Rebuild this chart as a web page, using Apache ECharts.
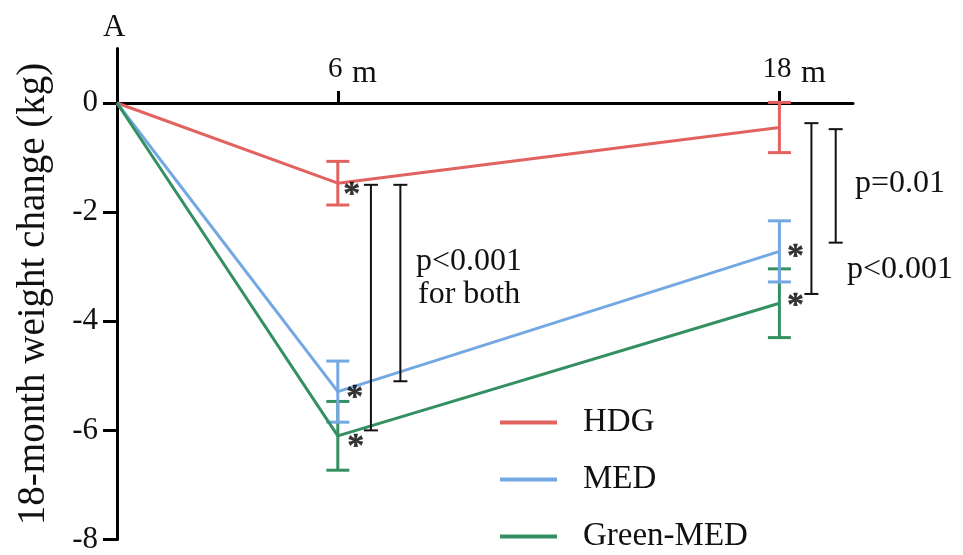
<!DOCTYPE html>
<html>
<head>
<meta charset="utf-8">
<script src="https://cdn.jsdelivr.net/npm/echarts@6/dist/echarts.min.js"></script>
<style>html,body{margin:0;padding:0;background:#fff}#c{width:963px;height:555px}</style>
</head>
<body>
<div id="c"></div>
<script>
// ---- data ----
const months = [0, 6, 18];
const groups = ['HDG', 'MED', 'Green-MED'];
const hdg = [0, -1.47, -0.45];
const hdgErr = [0, 0.40, 0.46];
const med = [0, -5.29, -2.72];
const medErr = [0, 0.56, 0.56];
const green = [0, -6.10, -3.67];
const greenErr = [0, 0.63, 0.63];
const xTicks = [6, 18];
const yTicks = [-8, -6, -4, -2, 0];
// significance brackets: [x (months), y top, y bottom]
const brackets = [[6.9, -1.5, -6.0], [7.7, -1.5, -5.1], [18.87, -0.37, -3.5], [19.53, -0.48, -2.56]];
const pTexts = ['p<0.001', 'for both', 'p=0.01', 'p<0.001'];

const colors = ['#e2625f', '#74a8e2', '#349063'];
const FONT = 'Liberation Serif';

function errSeries(name, vals, errs, color) {
  return {
    type: 'custom', name: name + ' err', z: 3,
    data: months.map((m, i) => [m, vals[i], errs[i]]),
    renderItem: function (params, api) {
      const x = api.value(0), y = api.value(1), e = api.value(2);
      if (!e) return null;
      const a = api.coord([x, y + e]), b = api.coord([x, y - e]);
      const hw = 11.5;
      const st = { stroke: color, lineWidth: 3 };
      return { type: 'group', children: [
        { type: 'line', shape: { x1: a[0], y1: a[1], x2: b[0], y2: b[1] }, style: st },
        { type: 'line', shape: { x1: a[0] - hw, y1: a[1], x2: a[0] + hw, y2: a[1] }, style: st },
        { type: 'line', shape: { x1: b[0] - hw, y1: b[1], x2: b[0] + hw, y2: b[1] }, style: st }
      ] };
    }
  };
}
function lineSeries(name, vals, color) {
  return {
    type: 'line', name: name, z: 4, symbol: 'none',
    data: months.map((m, i) => [m, vals[i]]),
    lineStyle: { color: color, width: 3 }, itemStyle: { color: color }
  };
}
const starOff = [[14, 12], [17, 7], [18, 11], [16, 6], [16, 3]];
const starData = [[6, hdg[1]], [6, med[1]], [6, green[1]], [18, med[2]], [18, green[2]]]
  .map((v, i) => ({ value: v, label: { offset: starOff[i] } }));

const chart = echarts.init(document.getElementById('c'));
chart.setOption({
  animation: false,
  grid: { left: 117, right: 110, top: 48.4, bottom: 14.3 },
  legend: {
    data: groups, orient: 'vertical', left: 500, top: 406, padding: 0,
    itemWidth: 57, itemHeight: 4, itemGap: 24, icon: 'rect',
    textStyle: { fontFamily: FONT, fontSize: 33, color: '#111', lineHeight: 32, padding: [0, 0, 0, 21] }
  },
  xAxis: {
    type: 'value', min: 0, max: 20, position: 'top',
    axisLine: { onZero: true, lineStyle: { color: '#000', width: 3 } },
    axisTick: { show: true, customValues: xTicks, length: 12, lineStyle: { color: '#000', width: 3 } },
    axisLabel: {
      customValues: xTicks, margin: -41, color: '#111',
      formatter: v => '{p|}{n|' + v + '}{u|m}',
      rich: {
        p: { width: 34 },
        n: { fontFamily: FONT, fontSize: 29, verticalAlign: 'bottom', padding: [0, 0, 6, 0] },
        u: { fontFamily: FONT, fontSize: 32, width: 34, align: 'left', verticalAlign: 'bottom', padding: [0, 0, 0, 5] }
      }
    },
    splitLine: { show: false }
  },
  yAxis: {
    type: 'value', min: -8, max: 1, interval: 2,
    name: '18-month weight change (kg)', nameLocation: 'middle', nameRotate: 90, nameGap: 64,
    nameTextStyle: { fontFamily: FONT, fontSize: 39, color: '#111' },
    axisLine: { show: true, onZero: false, lineStyle: { color: '#000', width: 3 } },
    axisTick: { show: true, customValues: yTicks, length: 14, lineStyle: { color: '#000', width: 3 } },
    axisLabel: { customValues: yTicks, margin: 19, fontFamily: FONT, fontSize: 31, color: '#111' },
    splitLine: { show: false }
  },
  series: [
    lineSeries('HDG', hdg, colors[0]),
    lineSeries('MED', med, colors[1]),
    lineSeries('Green-MED', green, colors[2]),
    errSeries('Green-MED', green, greenErr, colors[2]),
    errSeries('MED', med, medErr, colors[1]),
    errSeries('HDG', hdg, hdgErr, colors[0]),
    {
      type: 'custom', name: 'brackets', z: 5,
      data: brackets,
      renderItem: function (params, api) {
        const a = api.coord([api.value(0), api.value(1)]), b = api.coord([api.value(0), api.value(2)]);
        const hw = 7, st = { stroke: '#111', lineWidth: 2 };
        return { type: 'group', children: [
          { type: 'line', shape: { x1: a[0], y1: a[1], x2: b[0], y2: b[1] }, style: st },
          { type: 'line', shape: { x1: a[0] - hw, y1: a[1], x2: a[0] + hw, y2: a[1] }, style: st },
          { type: 'line', shape: { x1: b[0] - hw, y1: b[1], x2: b[0] + hw, y2: b[1] }, style: st }
        ] };
      }
    },
    {
      type: 'scatter', name: 'sig', z: 6, symbolSize: 1,
      itemStyle: { color: 'rgba(0,0,0,0)' },
      data: starData,
      label: { show: true, formatter: '*', fontFamily: FONT, fontWeight: 'bold', fontSize: 34, color: '#000',
               textBorderColor: '#000', textBorderWidth: 0.4, position: 'inside' }
    }
  ],
  graphic: [
    { type: 'text', left: 103, top: 12, style: { text: 'A', font: '31px ' + FONT, fill: '#111' } },
    { type: 'text', left: 416, top: 246, style: { text: pTexts[0], font: '32px ' + FONT, fill: '#111' } },
    { type: 'text', left: 418, top: 279, style: { text: pTexts[1], font: '32px ' + FONT, fill: '#111' } },
    { type: 'text', left: 855, top: 168, style: { text: pTexts[2], font: '32px ' + FONT, fill: '#111' } },
    { type: 'text', left: 847, top: 254, style: { text: pTexts[3], font: '32px ' + FONT, fill: '#111' } }
  ]
});
</script>
</body>
</html>
